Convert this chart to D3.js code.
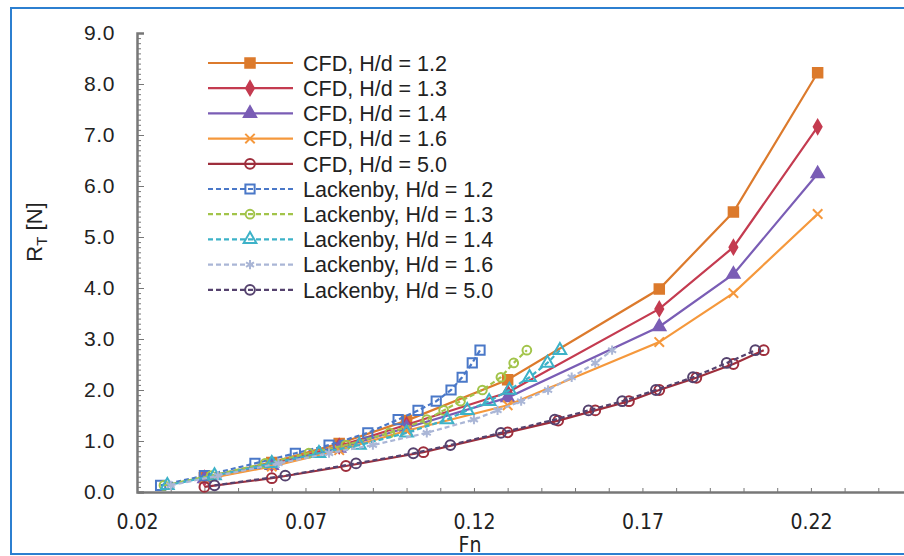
<!DOCTYPE html>
<html>
<head>
<meta charset="utf-8">
<script src="https://cdn.jsdelivr.net/npm/d3@7"></script>
<style>
  body { margin: 0; background: #fff; }
  svg { display: block; }
  .tick text { fill: #222; }
</style>
</head>
<body>
<div id="chart"></div>
<script>
// CFD runs (same Froude numbers for the shallow cases)
const fnCFD = [0.040, 0.060, 0.080, 0.100, 0.130, 0.175, 0.197, 0.222];
const rtCFD12 = [0.28, 0.58, 0.95, 1.40, 2.20, 3.98, 5.49, 8.22];
const rtCFD13 = [0.27, 0.55, 0.90, 1.32, 1.95, 3.59, 4.80, 7.16];
const rtCFD14 = [0.26, 0.52, 0.86, 1.26, 1.85, 3.24, 4.27, 6.24];
const rtCFD16 = [0.25, 0.50, 0.82, 1.20, 1.70, 2.94, 3.90, 5.45];

// deep-ish water CFD
const fnCFD50 = [0.040, 0.060, 0.082, 0.105, 0.130, 0.145, 0.156, 0.166, 0.175, 0.186, 0.197, 0.206];
const rtCFD50 = [0.10, 0.27, 0.51, 0.78, 1.17, 1.40, 1.60, 1.78, 2.00, 2.24, 2.51, 2.78];

// Lackenby estimates, same resistance values moved to lower Fn
const rtLack = [0.13, 0.32, 0.56, 0.76, 0.92, 1.16, 1.42, 1.60, 1.78, 2.00, 2.25, 2.53, 2.78];
const fnLack12 = [0.027, 0.040, 0.055, 0.067, 0.077, 0.0885, 0.0975, 0.1034, 0.1088, 0.1132, 0.1165, 0.1195, 0.1218];
const fnLack13 = [0.028, 0.042, 0.058, 0.071, 0.082, 0.095, 0.106, 0.111, 0.116, 0.1225, 0.128, 0.1318, 0.1357];
const fnLack14 = [0.029, 0.043, 0.060, 0.074, 0.086, 0.100, 0.112, 0.118, 0.1245, 0.1305, 0.1365, 0.1418, 0.1455];
const fnLack16 = [0.030, 0.044, 0.062, 0.077, 0.090, 0.106, 0.120, 0.127, 0.134, 0.142, 0.149, 0.156, 0.161];
const fnLack50 = [0.043, 0.064, 0.085, 0.102, 0.113, 0.128, 0.144, 0.154, 0.164, 0.174, 0.185, 0.195, 0.2035];

const xTicks = [0.02, 0.07, 0.12, 0.17, 0.22];
const yTicks = [0, 1, 2, 3, 4, 5, 6, 7, 8, 9];

const series = [
    { name: "CFD, H/d = 1.2", fn: fnCFD, rt: rtCFD12, color: "#DC7A2C", dash: null, sym: d3.symbolSquare, size: 90, fill: true },
    { name: "CFD, H/d = 1.3", fn: fnCFD, rt: rtCFD13, color: "#C43B50", dash: null, sym: d3.symbolDiamond, size: 55, fill: true },
    { name: "CFD, H/d = 1.4", fn: fnCFD, rt: rtCFD14, color: "#7A5DB5", dash: null, sym: d3.symbolTriangle, size: 65, fill: true },
    { name: "CFD, H/d = 1.6", fn: fnCFD, rt: rtCFD16, color: "#F5983C", dash: null, sym: d3.symbolX, size: 60, fill: false },
    { name: "CFD, H/d = 5.0", fn: fnCFD50, rt: rtCFD50, color: "#9E2E3C", dash: null, sym: d3.symbolCircle, size: 75, fill: false },
    { name: "Lackenby, H/d = 1.2", fn: fnLack12, rt: rtLack, color: "#4A78C8", dash: "5,3", sym: d3.symbolSquare, size: 85, fill: false },
    { name: "Lackenby, H/d = 1.3", fn: fnLack13, rt: rtLack, color: "#A2C44A", dash: "5,3", sym: d3.symbolCircle, size: 60, fill: false },
    { name: "Lackenby, H/d = 1.4", fn: fnLack14, rt: rtLack, color: "#3DB2C8", dash: "5,3", sym: d3.symbolTriangle, size: 70, fill: false },
    { name: "Lackenby, H/d = 1.6", fn: fnLack16, rt: rtLack, color: "#AAB6D6", dash: "5,3", sym: d3.symbolAsterisk, size: 60, fill: false },
    { name: "Lackenby, H/d = 5.0", fn: fnLack50, rt: rtLack, color: "#55426E", dash: "5,3", sym: d3.symbolCircle, size: 75, fill: false }
];

const W = 904, H = 556;
const svg = d3.select("#chart").append("svg").attr("width", W).attr("height", H);

// outer blue frame
svg.append("rect").attr("x", 11).attr("y", 8).attr("width", 910).attr("height", 546)
    .attr("fill", "#fff").attr("stroke", "#2C7FD0").attr("stroke-width", 2);

const x = d3.scaleLinear().domain([0.02, 0.25]).range([137, 912]);
const y = d3.scaleLinear().domain([0, 9]).range([492, 33]);

// minor ticks
svg.append("g").attr("transform", "translate(0,492)")
    .call(d3.axisBottom(x).tickValues(d3.range(0.02, 0.2501, 0.01)).tickSize(-4).tickFormat(""))
    .call(g => g.select(".domain").remove())
    .call(g => g.selectAll("line").attr("stroke", "#777"));
svg.append("g").attr("transform", "translate(137,0)")
    .call(d3.axisLeft(y).tickValues(d3.range(0, 9.001, 0.1)).tickSize(-4).tickFormat(""))
    .call(g => g.select(".domain").remove())
    .call(g => g.selectAll("line").attr("stroke", "#777"));

// major axes
const xAxis = svg.append("g").attr("transform", "translate(0,492)")
    .call(d3.axisBottom(x).tickValues(xTicks).tickSize(0).tickPadding(22).tickFormat(d3.format(".2f")));
xAxis.select(".domain").attr("stroke", "#777").attr("stroke-width", 2.5);
xAxis.selectAll("text").style("font-family", "'Liberation Sans Narrow', 'DejaVu Sans Condensed', 'Liberation Sans', Arial, sans-serif").style("font-size", "21px");

const yAxis = svg.append("g").attr("transform", "translate(137,0)")
    .call(d3.axisLeft(y).tickValues(yTicks).tickSize(-7).tickPadding(22).tickFormat(d3.format(".1f")));
yAxis.select(".domain").attr("stroke", "#777").attr("stroke-width", 2.5);
yAxis.selectAll("line").attr("stroke", "#777");
yAxis.selectAll("text").style("font-family", "'Liberation Sans', Arial, sans-serif").style("font-size", "21px")
    .attr("letter-spacing", "0.6px");

// axis titles
svg.append("text").attr("x", 470).attr("y", 552).attr("text-anchor", "middle")
    .style("font-family", "'Liberation Sans Narrow', 'DejaVu Sans Condensed', 'Liberation Sans', Arial, sans-serif")
    .style("font-size", "21px").attr("fill", "#222").text("Fn");

const yTitle = svg.append("text").attr("transform", "translate(42,232) rotate(-90)")
    .attr("text-anchor", "middle")
    .style("font-family", "'Liberation Sans', Arial, sans-serif").style("font-size", "22px").attr("fill", "#222");
yTitle.append("tspan").text("R");
yTitle.append("tspan").attr("dy", 5).style("font-size", "15px").text("T");
yTitle.append("tspan").attr("dy", -5).text(" [N]");

// series
const line = d3.line().x(d => x(d[0])).y(d => y(d[1]));
series.forEach(s => {
    let pts = s.fn.map((f, i) => [f, s.rt[i]]);
    let g = svg.append("g");
    g.append("path").attr("d", line(pts)).attr("fill", "none")
        .attr("stroke", s.color).attr("stroke-width", 2.2)
        .attr("stroke-dasharray", s.dash);
    g.selectAll("path.m").data(pts).join("path").attr("class", "m")
        .attr("transform", d => "translate(" + x(d[0]) + "," + y(d[1]) + ")")
        .attr("d", d3.symbol().type(s.sym).size(s.size))
        .attr("fill", s.fill ? s.color : "none")
        .attr("stroke", s.color).attr("stroke-width", 2);
});

// legend
const legend = svg.append("g");
series.forEach((s, i) => {
    let ly = 63 + i * 25.2;
    legend.append("line").attr("x1", 208).attr("x2", 293).attr("y1", ly).attr("y2", ly)
        .attr("stroke", s.color).attr("stroke-width", 2.2).attr("stroke-dasharray", s.dash);
    legend.append("path").attr("transform", "translate(250," + ly + ")")
        .attr("d", d3.symbol().type(s.sym).size(s.size))
        .attr("fill", s.fill ? s.color : "none")
        .attr("stroke", s.color).attr("stroke-width", 2);
    legend.append("text").attr("x", 303).attr("y", ly).attr("dy", "0.36em")
        .style("font-family", "'Liberation Sans', Arial, sans-serif").style("font-size", "21.5px")
        .attr("fill", "#222").text(s.name);
});
</script>
</body>
</html>
